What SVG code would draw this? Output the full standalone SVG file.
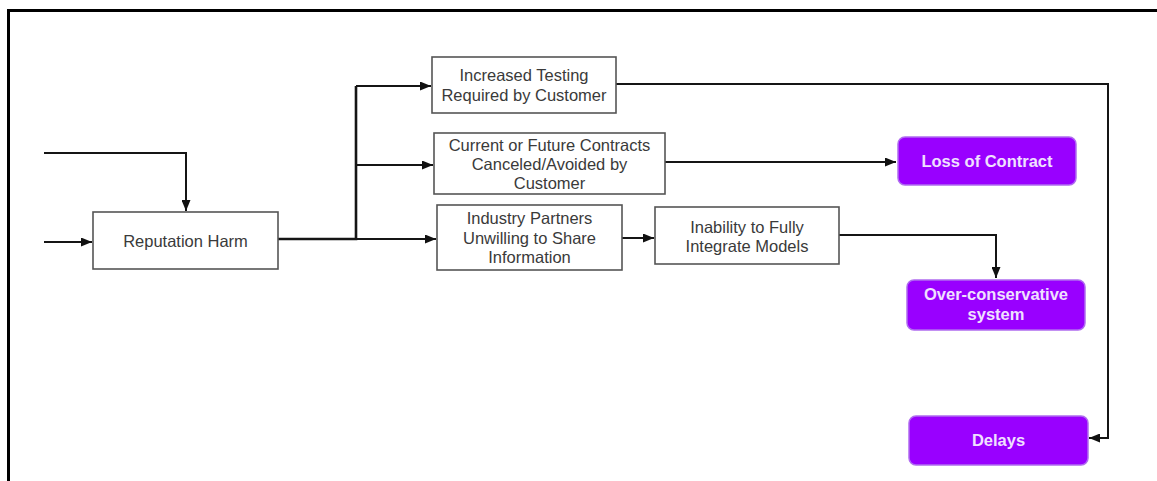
<svg xmlns="http://www.w3.org/2000/svg" width="1157" height="481" viewBox="0 0 1157 481">
  <style>
    .box { fill: #ffffff; stroke: #555555; stroke-width: 1.6; }
    .out { fill: #9900ff; stroke: #b06cf0; stroke-width: 1.5; }
    .lbl { font-family: "Liberation Sans", Arial, sans-serif; font-size: 16.5px; fill: #3a3a3a; text-anchor: middle; }
    .olbl { font-family: "Liberation Sans", Arial, sans-serif; font-size: 16.5px; font-weight: bold; fill: #f0e0ff; text-anchor: middle; }
    .wire { fill: none; stroke: #151515; stroke-width: 2; }
    .frame { fill: none; stroke: #000000; stroke-width: 3; }
  </style>
  <defs>
    <marker id="arrow" markerWidth="11" markerHeight="9" refX="11" refY="4.5" orient="auto" markerUnits="userSpaceOnUse">
      <path d="M0,0 L11,4.5 L0,9 Z" fill="#111111"/>
    </marker>
  </defs>

  <rect width="1157" height="481" fill="#ffffff"/>
  <!-- frame: top and left edges -->
  <path class="frame" d="M8.5,481 L8.5,10.5 L1157,10.5"/>

  <g id="connectors">
    <path class="wire" d="M44,242 L92,242" marker-end="url(#arrow)"/>
    <path class="wire" d="M44,153 L186,153 L186,211" marker-end="url(#arrow)"/>
    <path class="wire" style="stroke-width:2.6" d="M278,239 L356,239 L356,86"/>
    <path class="wire" d="M356,86 L431,86" marker-end="url(#arrow)"/>
    <path class="wire" d="M356,165 L433,165" marker-end="url(#arrow)"/>
    <path class="wire" d="M356,239 L436,239" marker-end="url(#arrow)"/>
    <path class="wire" d="M622,238 L654,238" marker-end="url(#arrow)"/>
    <path class="wire" d="M665,162 L896,162" marker-end="url(#arrow)"/>
    <path class="wire" d="M839,235 L996,235 L996,278" marker-end="url(#arrow)"/>
    <path class="wire" d="M616,84 L1108,84 L1108,438 L1089,438" marker-end="url(#arrow)"/>
  </g>

  <g id="reputation-harm">
    <rect class="box" x="93" y="212" width="185" height="57"/>
    <text class="lbl" x="185.5" y="247">Reputation Harm</text>
  </g>

  <g id="increased-testing">
    <rect class="box" x="432" y="57" width="184" height="56"/>
    <text class="lbl" x="524" y="81">Increased Testing</text>
    <text class="lbl" x="524" y="101">Required by Customer</text>
  </g>

  <g id="contracts-canceled">
    <rect class="box" x="434" y="133" width="231" height="61"/>
    <text class="lbl" x="549.5" y="151">Current or Future Contracts</text>
    <text class="lbl" x="549.5" y="170">Canceled/Avoided by</text>
    <text class="lbl" x="549.5" y="189">Customer</text>
  </g>

  <g id="partners-unwilling">
    <rect class="box" x="437" y="205" width="185" height="65"/>
    <text class="lbl" x="529.5" y="224">Industry Partners</text>
    <text class="lbl" x="529.5" y="244">Unwilling to Share</text>
    <text class="lbl" x="529.5" y="263">Information</text>
  </g>

  <g id="inability-integrate">
    <rect class="box" x="655" y="207" width="184" height="57"/>
    <text class="lbl" x="747" y="233">Inability to Fully</text>
    <text class="lbl" x="747" y="252">Integrate Models</text>
  </g>

  <g id="loss-of-contract">
    <rect class="out" x="898" y="137" width="178" height="48" rx="7"/>
    <text class="olbl" x="987" y="167">Loss of Contract</text>
  </g>

  <g id="over-conservative">
    <rect class="out" x="907" y="280" width="178" height="50" rx="7"/>
    <text class="olbl" x="996" y="300">Over-conservative</text>
    <text class="olbl" x="996" y="320">system</text>
  </g>

  <g id="delays">
    <rect class="out" x="909" y="416" width="179" height="49" rx="7"/>
    <text class="olbl" x="998.5" y="446">Delays</text>
  </g>
</svg>
